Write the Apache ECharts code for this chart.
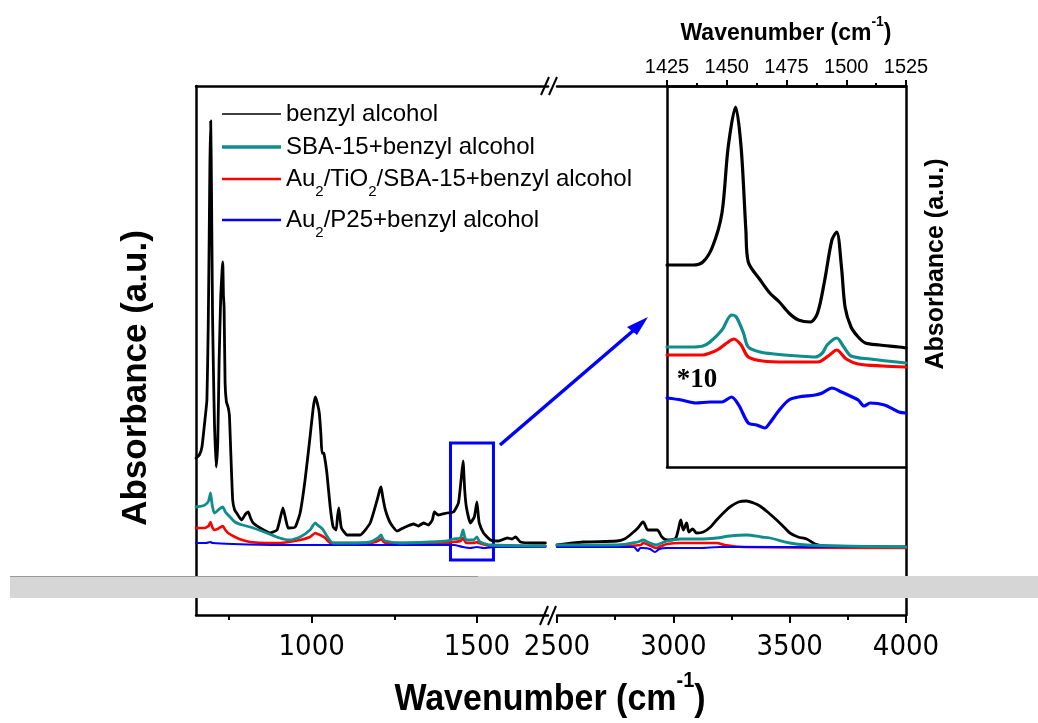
<!DOCTYPE html>
<html>
<head>
<meta charset="utf-8">
<title>FTIR benzyl alcohol</title>
<script src="https://cdn.jsdelivr.net/npm/echarts@6/dist/echarts.min.js"></script>
<style>
  html, body { margin: 0; padding: 0; background: #fff; }
  #chart { width: 1038px; height: 723px; }
</style>
</head>
<body>
<div id="chart"></div>
<script>
// series names
var names = ['benzyl alcohol', 'SBA-15+benzyl alcohol', 'Au2/TiO2/SBA-15+benzyl alcohol', 'Au2/P25+benzyl alcohol'];
var colors = ['#000000', '#0f8c8c', '#ff0000', '#0000ff'];

// tick values
var leftTicks = [1000, 1500];
var leftMinor = [750, 1250];
var insetTicks = [1425, 1450, 1475, 1500, 1525];

// main plot, 650-1715 cm-1 (absorbance in arbitrary units)
var blackLeft = [[650,157],[660,160],[668,168],[677,195],[683,215],[687,290],[690,380],[692,450],[694.5,494],[697,420],[700,300],[703,240],[706,190],[711,148],[716,175],[720,255],[725,320],[729,345],[731,353],[733,320],[735,308],[738,232],[742,213],[747,208],[751,200],[755,165],[761,115],[767,105],[773,102],[788,95],[800,101],[808,103],[815,97],[823,92],[844,87],[874,82],[895,85],[905,97],[913,107],[920,98],[929,87],[950,88],[965,102],[980,135],[995,178],[1005,208],[1011,218],[1017,212],[1023,202],[1028,180],[1031,162],[1035,162],[1038,160],[1046,142],[1056,108],[1065,88],[1074,85],[1078,98],[1082,107],[1086,96],[1090,87],[1107,80],[1146,80],[1177,92],[1198,115],[1206,125],[1210,128],[1215,118],[1223,105],[1238,92],[1258,84],[1283,88],[1308,91],[1323,89],[1338,92],[1353,90],[1365,95],[1371,103],[1383,100],[1409,102],[1429,103],[1444,112],[1452,135],[1458,154],[1463,125],[1468,108],[1480,92],[1492,98],[1500,113],[1504,100],[1507,92],[1520,82],[1541,75],[1565,74],[1592,77],[1606,76],[1617,78],[1632,73],[1671,72],[1707,72]];
var tealLeft = [[650,108],[668,109],[677,110],[688,114],[694,122],[699,110],[705,102],[711,103],[717,105],[725,107],[731,108],[739,103],[747,100],[768,93],[790,90],[814,88],[864,82],[903,77],[934,75],[965,78],[995,85],[1005,90],[1011,92],[1018,90],[1026,88],[1035,85],[1050,77],[1065,72],[1080,72],[1117,72],[1177,73],[1200,77],[1210,80],[1216,76],[1223,74],[1268,72],[1359,73],[1410,74],[1429,76],[1450,77],[1458,85],[1463,78],[1468,75],[1490,75],[1500,78],[1505,75],[1510,73],[1541,70],[1707,69]];
var redLeft = [[650,87],[668,87],[677,87],[688,89],[694,93],[699,88],[705,85],[715,86],[725,88],[731,89],[739,85],[747,82],[768,78],[790,75],[814,73],[864,72],[903,72],[965,75],[995,78],[1011,82],[1018,81],[1026,80],[1041,77],[1056,72],[1086,72],[1177,72],[1200,74],[1210,76],[1218,73],[1226,72],[1410,72],[1429,73],[1450,74],[1458,77],[1463,74],[1468,72],[1490,72],[1500,73],[1505,72],[1541,69],[1707,69]];
var blueLeft = [[650,72],[680,72],[694,73],[700,72],[760,71],[900,70],[1200,70],[1430,70],[1458,68],[1480,67],[1500,68],[1520,67],[1560,68],[1707,68]];

// main plot, 2500-4000 cm-1
var blackRight = [[2500,70],[2612,73],[2758,74],[2790,76],[2814,80],[2848,87],[2870,93],[2892,85],[2930,85],[2951,78],[2973,75],[3007,76],[3021,85],[3032,95],[3043,85],[3057,92],[3067,83],[3083,86],[3100,82],[3129,83],[3160,88],[3186,95],[3215,102],[3243,108],[3280,113],[3315,114],[3345,112],[3372,109],[3410,102],[3444,95],[3475,88],[3501,82],[3536,78],[3573,76],[3609,71],[3650,69],[4000,68]];
var tealRight = [[2500,70],[2758,70],[2848,73],[2870,75],[2890,73],[2925,70],[2950,72],[2973,74],[3032,76],[3114,76],[3186,77],[3243,79],[3315,80],[3380,78],[3415,77],[3501,72],[3573,70],[3700,69],[4000,68]];
var redRight = [[2500,69],[2758,69],[2860,70],[2870,72],[2895,70],[2925,67],[2950,69],[2973,71],[3030,72],[3114,72],[3186,72],[3220,70],[3300,68],[4000,67]];
var blueRight = [[2500,68],[2758,68],[2830,68],[2848,64],[2858,67],[2870,67],[2900,66],[2921,63],[2940,66],[2973,67],[3114,67],[3200,68],[4000,68]];

// inset, 1425-1525 cm-1 (blue spectrum x10)
var blackInset = [[1425,202],[1436,202],[1440,205],[1444,220],[1448,254],[1450.6,320],[1453.7,360],[1456,320],[1458,237],[1459,205],[1464,187],[1468,174],[1472,165],[1476,154],[1480,147],[1485,145],[1488,154],[1491,187],[1494,227],[1496,235],[1498,200],[1499.5,160],[1502,140],[1505,130],[1508,124],[1514,122],[1522,120],[1525,119]];
var tealInset = [[1425,120],[1435,120],[1440,121],[1443,125],[1448,137],[1452,152],[1454,150],[1457,134],[1459,120],[1464,115],[1470,113],[1480,111],[1487,110],[1490,114],[1492,122],[1496,129],[1499,120],[1502,111],[1510,108],[1525,104]];
var redInset = [[1425,112],[1440,112],[1443,114],[1446,117],[1450,124],[1453,128],[1456,122],[1459,110],[1465,106],[1475,105],[1488,105],[1493,112],[1496,117],[1500,108],[1505,103],[1515,101],[1525,100]];
var blueInset = [[1425,69],[1431,67],[1437,64],[1443,65],[1448,65],[1452,70],[1455,62],[1459,44],[1462.5,42],[1466,39],[1468,44],[1472,57],[1476,67],[1480,70],[1487,72],[1490,74],[1494,79],[1498,75],[1502.5,70],[1505,67],[1507.5,61],[1510,64],[1516,62],[1522,55],[1525,54]];

var lineW = [2.8, 2.8, 2.6, 2.2];
var insetW = [3.2, 3.2, 3.2, 3.2];
var legendTops = [94, 127, 159, 200];
var legendThick = [1.5, 3.5, 2.5, 2.5];

var chart = echarts.init(document.getElementById('chart'), null, { renderer: 'canvas' });

var FONT = 'Liberation Sans';
var NARROW = '"Liberation Sans Narrow", "DejaVu Sans Condensed", "Liberation Sans"';

function lineSeries(name, idx, data, axis, width, z, smooth) {
    return {
        name: name,
        type: 'line',
        xAxisIndex: axis,
        yAxisIndex: axis,
        data: data,
        showSymbol: false,
        symbol: 'none',
        silent: true,
        animation: false,
        smooth: smooth,
        z: z,
        lineStyle: { color: colors[idx], width: width, join: 'round', cap: 'round' },
        itemStyle: { color: colors[idx] }
    };
}

var series = [];
// draw order: black, red, blue, teal (teal sits on top at the baseline)
var order = [0, 2, 3, 1];
var leftSets = [blackLeft, tealLeft, redLeft, blueLeft];
var rightSets = [blackRight, tealRight, redRight, blueRight];
var insetSets = [blackInset, tealInset, redInset, blueInset];
order.forEach(function (i, k) {
    series.push(lineSeries(names[i], i, leftSets[i], 0, lineW[i], 2 + k, 0.15));
    series.push(lineSeries(names[i], i, rightSets[i], 1, lineW[i], 2 + k, 0.3));
    series.push(lineSeries(names[i], i, insetSets[i], 2, insetW[i], 2 + k, 0.3));
});
// blue box marking the zoomed region
series[0].markArea = {
    silent: true,
    itemStyle: { color: 'rgba(0,0,0,0)', borderColor: '#0000ff', borderWidth: 3 },
    data: [[{ coord: [1420, 172] }, { coord: [1550, 55] }]]
};

var richLegend = {
    t: { fontSize: 24, fontFamily: FONT, color: '#000', lineHeight: 40, verticalAlign: 'middle' },
    s: { fontSize: 15, fontFamily: FONT, color: '#000', lineHeight: 40, verticalAlign: 'bottom' }
};
function legendLabel(name) {
    if (name === names[2]) return '{t|Au}{s|2}{t|/TiO}{s|2}{t|/SBA-15+benzyl alcohol}';
    if (name === names[3]) return '{t|Au}{s|2}{t|/P25+benzyl alcohol}';
    return '{t|' + name + '}';
}
var legends = names.map(function (n, i) {
    return {
        left: 222,
        top: legendTops[i],
        padding: 0,
        selectedMode: false,
        itemWidth: 59,
        itemHeight: legendThick[i],
        icon: 'rect',
        data: [{ name: n, itemStyle: { color: colors[i] } }],
        formatter: legendLabel,
        textStyle: { rich: richLegend, fontSize: 24, fontFamily: FONT, color: '#000', lineHeight: 40 }
    };
});

function plain(v) { return String(v); }

var axisLine = { show: true, onZero: false, lineStyle: { color: '#000', width: 2.5 } };
var noTick = { show: false };
var noLabel = { show: false };
var noSplit = { show: false };

var option = {
    backgroundColor: '#ffffff',
    animation: false,
    legend: legends,
    grid: [
        { left: 196, top: 86, width: 352, height: 529 },
        { left: 557, top: 86, width: 349, height: 529 },
        { left: 667, top: 86, width: 239, height: 381 }
    ],
    xAxis: [
        {   // left part, bottom
            gridIndex: 0, type: 'value', position: 'bottom', min: 650, max: 1715,
            axisLine: axisLine,
            axisTick: { show: true, length: 8, lineStyle: { width: 2, color: '#000' }, customValues: leftTicks },
            axisLabel: { show: true, customValues: leftTicks, formatter: plain, fontSize: 29, fontFamily: NARROW, color: '#000', margin: 18 },
            splitLine: noSplit
        },
        {   // right part, bottom
            gridIndex: 1, type: 'value', position: 'bottom', min: 2500, max: 4000, interval: 500,
            axisLine: axisLine,
            axisTick: { show: true, length: 8, lineStyle: { width: 2, color: '#000' } },
            minorTick: { show: true, splitNumber: 2, length: 5, lineStyle: { width: 2, color: '#000' } },
            axisLabel: { show: true, formatter: plain, fontSize: 29, fontFamily: NARROW, color: '#000', margin: 18, showMinLabel: true, showMaxLabel: true },
            splitLine: noSplit
        },
        {   // inset, top axis with labels
            gridIndex: 2, type: 'value', position: 'top', min: 1425, max: 1525, interval: 25,
            axisLine: axisLine,
            axisTick: { show: true, length: 6, lineStyle: { width: 2, color: '#000' } },
            minorTick: { show: true, splitNumber: 2, length: 3, lineStyle: { width: 2, color: '#000' } },
            axisLabel: { show: true, formatter: plain, fontSize: 20, fontFamily: FONT, color: '#000', margin: 9, showMinLabel: true, showMaxLabel: true },
            splitLine: noSplit
        },
        {   // left part, top border
            gridIndex: 0, type: 'value', position: 'top', min: 650, max: 1715,
            axisLine: axisLine, axisTick: noTick, axisLabel: noLabel, splitLine: noSplit
        },
        {   // right part, top border
            gridIndex: 1, type: 'value', position: 'top', min: 2500, max: 4000,
            axisLine: axisLine, axisTick: noTick, axisLabel: noLabel, splitLine: noSplit
        },
        {   // inset bottom border
            gridIndex: 2, type: 'value', position: 'bottom', min: 1425, max: 1525,
            axisLine: axisLine, axisTick: noTick, axisLabel: noLabel, splitLine: noSplit
        },
        {   // left part minor ticks
            gridIndex: 0, type: 'value', position: 'bottom', min: 650, max: 1715,
            axisLine: { show: false },
            axisTick: { show: true, length: 5, lineStyle: { width: 2, color: '#000' }, customValues: leftMinor },
            axisLabel: noLabel, splitLine: noSplit
        }
    ],
    yAxis: [
        { gridIndex: 0, type: 'value', min: 0, max: 529, position: 'left', axisLine: axisLine, axisTick: noTick, axisLabel: noLabel, splitLine: noSplit },
        { gridIndex: 1, type: 'value', min: 0, max: 529, position: 'right', axisLine: axisLine, axisTick: noTick, axisLabel: noLabel, splitLine: noSplit },
        { gridIndex: 2, type: 'value', min: 0, max: 381, position: 'left', axisLine: axisLine, axisTick: noTick, axisLabel: noLabel, splitLine: noSplit }
    ],
    series: series,
    graphic: [
        // axis titles
        {
            type: 'text', x: 550, y: 694, z: 50, scaleY: 1.1,
            style: {
                text: '{a|Wavenumber (cm}{b|-1}{a|)}',
                align: 'center', verticalAlign: 'middle',
                rich: {
                    a: { fontSize: 34, fontWeight: 'bold', fontFamily: FONT, fill: '#000', lineHeight: 44, verticalAlign: 'bottom' },
                    b: { fontSize: 20, fontWeight: 'bold', fontFamily: FONT, fill: '#000', lineHeight: 44, verticalAlign: 'top' }
                }
            }
        },
        {
            type: 'text', x: 136, y: 378, rotation: Math.PI / 2, z: 50,
            style: { text: 'Absorbance (a.u.)', align: 'center', verticalAlign: 'middle', fontSize: 35, fontWeight: 'bold', fontFamily: FONT, fill: '#000' }
        },
        {
            type: 'text', x: 786, y: 30, z: 50,
            style: {
                text: '{a|Wavenumber (cm}{b|-1}{a|)}',
                align: 'center', verticalAlign: 'middle',
                rich: {
                    a: { fontSize: 23, fontWeight: 'bold', fontFamily: FONT, fill: '#000', lineHeight: 30, verticalAlign: 'bottom' },
                    b: { fontSize: 14, fontWeight: 'bold', fontFamily: FONT, fill: '#000', lineHeight: 30, verticalAlign: 'top' }
                }
            }
        },
        {
            type: 'text', x: 936, y: 264, rotation: Math.PI / 2, z: 50,
            style: { text: 'Absorbance (a.u.)', align: 'center', verticalAlign: 'middle', fontSize: 25, fontWeight: 'bold', fontFamily: FONT, fill: '#000' }
        },
        {
            type: 'text', x: 697, y: 380, z: 50,
            style: { text: '*10', align: 'center', verticalAlign: 'middle', fontSize: 27, fontWeight: 'bold', fontFamily: 'Liberation Serif', fill: '#000' }
        },
        // arrow from the box to the inset
        {
            type: 'line', z: 50,
            shape: { x1: 500, y1: 445, x2: 634, y2: 330 },
            style: { stroke: '#0000ff', lineWidth: 3.5 }
        },
        {
            type: 'polygon', z: 50,
            shape: { points: [[648, 317], [627, 327], [637, 335]] },
            style: { fill: '#0000ff' }
        },
        // axis break marks
        { type: 'line', z: 50, shape: { x1: 541, y1: 95, x2: 549, y2: 77 }, style: { stroke: '#000', lineWidth: 2 } },
        { type: 'line', z: 50, shape: { x1: 549, y1: 95, x2: 557, y2: 77 }, style: { stroke: '#000', lineWidth: 2 } },
        { type: 'line', z: 50, shape: { x1: 540, y1: 625, x2: 548, y2: 606 }, style: { stroke: '#000', lineWidth: 2 } },
        { type: 'line', z: 50, shape: { x1: 548, y1: 625, x2: 556, y2: 606 }, style: { stroke: '#000', lineWidth: 2 } },
        // grey scan band across the figure
        { type: 'rect', z: 100, shape: { x: 10, y: 576, width: 1028, height: 22 }, style: { fill: '#d6d6d6' } },
        { type: 'line', z: 101, shape: { x1: 10, y1: 576.5, x2: 478, y2: 576.5 }, style: { stroke: '#9a9a9a', lineWidth: 1 } }
    ]
};

chart.setOption(option);
</script>
</body>
</html>
